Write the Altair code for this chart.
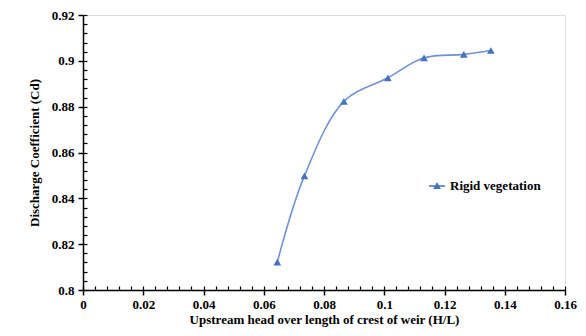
import altair as alt
import pandas as pd

hl = [0.0645, 0.0735, 0.0866, 0.1012, 0.1132, 0.1264, 0.1354]
cd = [0.8122, 0.8498, 0.8823, 0.8926, 0.9013, 0.9028, 0.9045]
series = ["Rigid vegetation"] * len(hl)

x_major = [0, 0.02, 0.04, 0.06, 0.08, 0.1, 0.12, 0.14, 0.16]
x_labels = ["0", "0.02", "0.04", "0.06", "0.08", "0.1", "0.12", "0.14", "0.16"]
y_major = [0.8, 0.82, 0.84, 0.86, 0.88, 0.9, 0.92]
y_labels = ["0.8", "0.82", "0.84", "0.86", "0.88", "0.9", "0.92"]
x_minor = [round(i * 0.004, 3) for i in range(41)]
y_minor = [round(0.8 + i * 0.004, 3) for i in range(31)]

df = pd.DataFrame({"hl": hl, "cd": cd, "series": series})

FONT = "Liberation Serif"
BLUE = "#4472C4"

xlab = "{" + ",".join(f'"{v}":"{l}"' for v, l in zip(x_major, x_labels)) + "}"
ylab = "{" + ",".join(f'"{v}":"{l}"' for v, l in zip(y_major, y_labels)) + "}"

xs = alt.Scale(domain=[0, 0.16], nice=False, zero=False)
ys = alt.Scale(domain=[0.8, 0.92], nice=False, zero=False)

legend_path = "M-1,0H1M-0.32,0.28L0,-0.3L0.32,0.28Z"

line = alt.Chart(df).mark_line(interpolate="catmull-rom", strokeWidth=1.6, color="#6F93D6").encode(
    x=alt.X("hl:Q", scale=xs,
            axis=alt.Axis(orient="bottom", values=x_major, labelExpr=f"{xlab}[datum.value] || datum.label",
                          title="Upstream head over length of crest of weir (H/L)",
                          grid=False, tickSize=5, tickColor="black", domainColor="black",
                          domainWidth=1.5, tickWidth=1.5, labelFont=FONT, labelFontSize=13,
                          labelFontWeight="bold", labelColor="black", titleFont=FONT,
                          titleFontSize=13, titleFontWeight="bold", titleColor="black",
                          labelPadding=3, titlePadding=2, labelFlush=False)),
    y=alt.Y("cd:Q", scale=ys,
            axis=alt.Axis(orient="left", values=y_major, labelExpr=f"{ylab}[datum.value] || datum.label",
                          title="Discharge Coefficient (Cd)",
                          grid=False, tickSize=5, tickColor="black", domainColor="black",
                          domainWidth=1.5, tickWidth=1.5, labelFont=FONT, labelFontSize=13,
                          labelFontWeight="bold", labelColor="black", titleFont=FONT,
                          titleFontSize=13, titleFontWeight="bold", titleColor="black",
                          labelPadding=4, titlePadding=10, labelFlush=False)),
)

points = alt.Chart(df).mark_point(shape="triangle-up", filled=True, size=60, opacity=1).encode(
    x=alt.X("hl:Q", scale=xs, axis=None),
    y=alt.Y("cd:Q", scale=ys, axis=None),
    color=alt.Color("series:N", scale=alt.Scale(range=[BLUE]),
                    legend=alt.Legend(title=None, orient="none", legendX=345, legendY=162,
                                      symbolType=legend_path, symbolSize=260,
                                      symbolStrokeWidth=1.5, symbolStrokeColor=BLUE,
                                      symbolFillColor=BLUE, labelFont=FONT, labelFontSize=13,
                                      labelFontWeight="bold", labelColor="black")),
)

minor_x = alt.Chart(pd.DataFrame({"v": x_minor})).mark_point(opacity=0).encode(
    x=alt.X("v:Q", scale=xs, axis=alt.Axis(orient="bottom", values=x_minor, labels=False, title=None,
                                            domain=False, grid=False, tickSize=4, tickColor="black",
                                            tickWidth=1.2, offset=-4)),
)
minor_y = alt.Chart(pd.DataFrame({"v": y_minor})).mark_point(opacity=0).encode(
    y=alt.Y("v:Q", scale=ys, axis=alt.Axis(orient="left", values=y_minor, labels=False, title=None,
                                            domain=False, grid=False, tickSize=4, tickColor="black",
                                            tickWidth=1.2, offset=-4)),
)

chart = alt.layer(minor_x, minor_y, line, points).resolve_axis(x="independent", y="independent").properties(
    width=482, height=275,
    autosize=alt.AutoSizeParams(type="none"),
    padding={"left": 75, "top": 7, "right": 13, "bottom": 38},
).configure_view(stroke="#444", strokeWidth=1.5).configure(background="white")

chart.save("out.html", embed_options={"renderer": "svg", "actions": False})
